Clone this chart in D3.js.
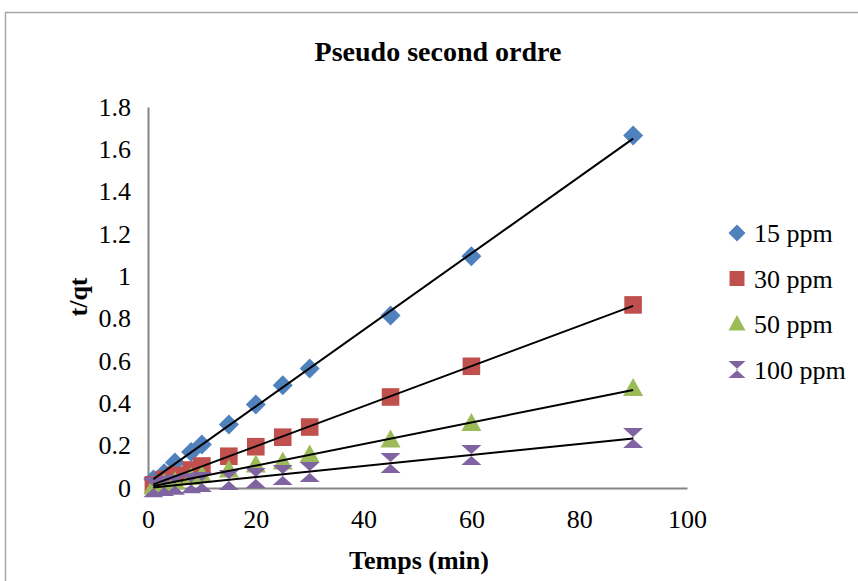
<!DOCTYPE html>
<html>
<head>
<meta charset="utf-8">
<script src="https://cdn.jsdelivr.net/npm/d3@7"></script>
<style>
  body { margin: 0; background: #fff; }
  text { font-family: "Liberation Serif", "Times New Roman", serif; }
</style>
</head>
<body>
<div id="container"></div>
<script>
// Data
const times = [1, 3, 5, 8, 10, 15, 20, 25, 30, 45, 60, 90];
const ppm15 = [0.04, 0.07, 0.12, 0.17, 0.205, 0.30, 0.395, 0.485, 0.565, 0.815, 1.095, 1.665];
const ppm30 = [0.015, 0.04, 0.06, 0.085, 0.104, 0.15, 0.195, 0.24, 0.288, 0.43, 0.575, 0.865];
const ppm50 = [0.005, 0.02, 0.03, 0.05, 0.06, 0.085, 0.109, 0.123, 0.156, 0.227, 0.305, 0.47];
const ppm100 = [0.003, 0.01, 0.015, 0.022, 0.028, 0.038, 0.047, 0.061, 0.076, 0.118, 0.156, 0.236];
const seriesNames = ["15 ppm", "30 ppm", "50 ppm", "100 ppm"];
const xTicks = [0, 20, 40, 60, 80, 100];
const yTicks = [0, 0.2, 0.4, 0.6, 0.8, 1, 1.2, 1.4, 1.6, 1.8];

const colors = ["#4F81BD", "#C0504D", "#9BBB59", "#8064A2"];
const allValues = [ppm15, ppm30, ppm50, ppm100];

const svg = d3
  .select("#container")
  .append("svg")
  .attr("width", 858)
  .attr("height", 581);

// chart frame
svg
  .append("rect")
  .attr("x", 5.5)
  .attr("y", 12.5)
  .attr("width", 900)
  .attr("height", 600)
  .attr("fill", "none")
  .attr("stroke", "#a6a6a6")
  .attr("stroke-width", 1.5);

const x = d3.scaleLinear().domain([0, 100]).range([148, 687]);
const y = d3.scaleLinear().domain([0, 1.8]).range([488, 107]);

// title
svg
  .append("text")
  .attr("x", 438)
  .attr("y", 61)
  .attr("text-anchor", "middle")
  .attr("font-size", 28)
  .attr("font-weight", "bold")
  .text("Pseudo second ordre");

// axes
const xAxis = svg
  .append("g")
  .attr("transform", "translate(0," + y(0) + ")")
  .call(d3.axisBottom(x).tickValues(xTicks).tickSize(0).tickPadding(22).tickFormat(d3.format("d")));
xAxis.select(".domain").attr("stroke", "#868686").attr("stroke-width", 2);
xAxis.selectAll("text").attr("font-size", 26).attr("fill", "#000")
  .style("font-family", "Liberation Serif");

const yAxis = svg
  .append("g")
  .attr("transform", "translate(" + x(0) + ",0)")
  .call(d3.axisLeft(y).tickValues(yTicks).tickSize(0).tickPadding(17).tickFormat((d) => String(+d.toFixed(1))));
yAxis.select(".domain").attr("stroke", "#868686").attr("stroke-width", 2);
yAxis.selectAll("text").attr("font-size", 26).attr("fill", "#000")
  .style("font-family", "Liberation Serif");

// axis titles
svg
  .append("text")
  .attr("x", 419)
  .attr("y", 569)
  .attr("text-anchor", "middle")
  .attr("font-size", 26)
  .attr("font-weight", "bold")
  .text("Temps (min)");

svg
  .append("text")
  .attr("transform", "translate(87,297) rotate(-90)")
  .attr("text-anchor", "middle")
  .attr("font-size", 26)
  .attr("font-weight", "bold")
  .text("t/qt");

// marker shapes
function markerPath(i, s) {
  if (i === 0) return `M0,${-s}L${s},0L0,${s}L${-s},0Z`;
  if (i === 1) return `M${-s * 0.88},${-s * 0.88}H${s * 0.88}V${s * 0.88}H${-s * 0.88}Z`;
  if (i === 2) return `M0,${-s * 1.05}L${s},${s * 0.75}L${-s},${s * 0.75}Z`;
  return `M${-s},${-s}H${s}L${-s * 0.1},0L${s},${s}H${-s}L${s * 0.1},0Z`;
}

const series = seriesNames.map((name, i) => ({
  name,
  i,
  points: times.map((t, j) => ({ t, v: allValues[i][j] })),
}));

// markers
series.forEach((s) => {
  svg
    .append("g")
    .selectAll("path")
    .data(s.points)
    .enter()
    .append("path")
    .attr("transform", (d) => `translate(${x(d.t)},${y(d.v)})`)
    .attr("d", markerPath(s.i, 10))
    .attr("fill", colors[s.i]);
});

// linear trendlines (least squares)
series.forEach((s) => {
  const mx = d3.mean(s.points, (d) => d.t);
  const my = d3.mean(s.points, (d) => d.v);
  const slope =
    d3.sum(s.points, (d) => (d.t - mx) * (d.v - my)) /
    d3.sum(s.points, (d) => (d.t - mx) * (d.t - mx));
  const b = my - slope * mx;
  const [t0, t1] = d3.extent(s.points, (d) => d.t);
  svg
    .append("line")
    .attr("x1", x(t0))
    .attr("y1", y(slope * t0 + b))
    .attr("x2", x(t1))
    .attr("y2", y(slope * t1 + b))
    .attr("stroke", "#000")
    .attr("stroke-width", 2);
});

// legend
const legend = svg
  .selectAll(".legend")
  .data(series)
  .enter()
  .append("g")
  .attr("class", "legend")
  .attr("transform", (d, i) => `translate(737,${233 + i * 45.5})`);

legend
  .append("path")
  .attr("d", (d) => markerPath(d.i, 8.5))
  .attr("fill", (d) => colors[d.i]);

legend
  .append("text")
  .attr("x", 17)
  .attr("y", 9)
  .attr("font-size", 26)
  .text((d) => d.name);
</script>
</body>
</html>
